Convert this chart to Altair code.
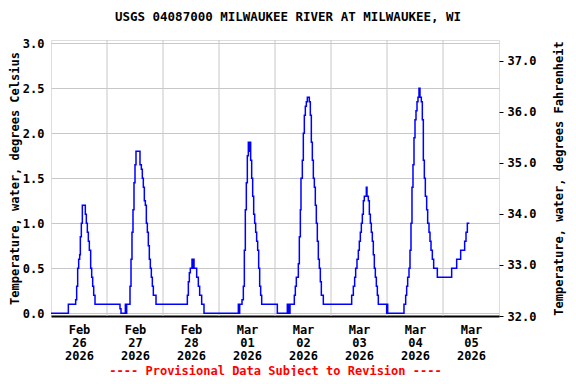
import altair as alt
import pandas as pd

# Hours since 2026-02-26 00:00 at which the reading changes, and the new value (deg C)
hours = [0, 7.43, 10.57, 11.0, 11.43, 11.86, 12.29, 12.57, 13.0, 13.43, 14.71, 15.14, 15.57, 16.0, 16.43,
         17.0, 17.43, 17.86, 18.29, 18.86, 29.57, 30.0, 31.86, 32.14, 32.43, 33.86, 34.29, 34.71, 35.14,
         35.57, 36.0, 36.43, 38.14, 38.71, 39.14, 39.57, 40.0, 40.43, 40.86, 41.29, 41.71, 42.14, 42.57,
         43.0, 43.43, 43.86, 45.0, 58.43, 58.86, 59.29, 59.71, 60.43, 60.64, 60.86, 61.29, 62.43, 63.14,
         63.71, 64.57, 65.57, 80.29, 80.57, 80.86, 81.86, 82.43, 82.86, 83.28, 83.71, 84.14, 84.57, 85.07,
         85.29, 85.57, 86.0, 86.43, 86.86, 87.29, 87.71, 88.14, 88.57, 89.0, 89.43, 89.86, 90.29, 97.0,
         101.28, 101.57, 102.0, 102.29, 102.43, 104.28, 104.71, 105.14, 106.0, 106.43, 106.86, 107.14,
         107.71, 108.14, 108.57, 109.0, 109.43, 109.86, 110.71, 111.14, 111.57, 112.0, 112.43, 112.86,
         113.28, 113.71, 114.14, 114.57, 115.0, 115.43, 115.86, 116.71, 128.86, 129.57, 130.14, 130.57,
         131.14, 131.71, 132.14, 132.57, 133.0, 133.43, 133.86, 134.28, 135.14, 135.43, 136.0, 136.43,
         136.86, 137.28, 137.71, 138.14, 138.57, 139.0, 139.43, 139.86, 140.28, 143.86, 144.13, 144.29,
         151.28, 152.0, 152.43, 152.86, 153.43, 153.86, 154.28, 154.71, 155.14, 155.57, 156.0, 156.43,
         156.86, 157.28, 157.71, 158.14, 158.71, 159.14, 159.57, 160.0, 160.43, 161.0, 161.43, 162.0,
         162.43, 162.86, 163.43, 164.0, 165.57, 171.71, 173.86, 175.57, 177.28, 177.86, 178.43, 179.28]
temp_c = [0.0, 0.1, 0.15, 0.3, 0.5, 0.6, 0.65, 0.85, 1.0, 1.2, 1.1, 1.0, 0.9, 0.8, 0.7,
          0.5, 0.4, 0.3, 0.2, 0.1, 0.05, 0.0, 0.1, 0.0, 0.1, 0.3, 0.6, 0.9, 1.15,
          1.45, 1.65, 1.8, 1.65, 1.6, 1.5, 1.4, 1.25, 1.2, 1.0, 0.9, 0.75, 0.6, 0.5,
          0.4, 0.3, 0.2, 0.1, 0.2, 0.35, 0.45, 0.5, 0.6, 0.5, 0.6, 0.5, 0.4, 0.3,
          0.2, 0.1, 0.0, 0.1, 0.0, 0.1, 0.15, 0.3, 0.7, 1.15, 1.45, 1.75, 1.9, 1.8,
          1.9, 1.7, 1.5, 1.3, 1.1, 1.0, 0.9, 0.8, 0.7, 0.5, 0.3, 0.2, 0.1, 0.0,
          0.1, 0.0, 0.1, 0.0, 0.1, 0.2, 0.3, 0.4, 0.55, 0.85, 1.15, 1.5,
          1.7, 2.0, 2.2, 2.3, 2.35, 2.4, 2.35, 2.2, 1.9, 1.7, 1.5, 1.4,
          1.2, 1.0, 0.8, 0.6, 0.5, 0.35, 0.2, 0.1, 0.2, 0.3, 0.4, 0.5,
          0.6, 0.7, 0.8, 0.9, 1.0, 1.1, 1.25, 1.3, 1.4, 1.3, 1.25, 1.1,
          1.0, 0.9, 0.8, 0.65, 0.5, 0.4, 0.3, 0.2, 0.1, 0.0, 0.1, 0.0,
          0.1, 0.2, 0.3, 0.4, 0.5, 0.7, 1.0, 1.4, 1.65, 1.95, 2.15, 2.25,
          2.35, 2.4, 2.5, 2.4, 2.35, 2.15, 1.7, 1.5, 1.3, 1.15, 1.0, 0.9,
          0.8, 0.7, 0.6, 0.5, 0.4, 0.5, 0.6, 0.7, 0.8, 0.9, 1.0, 1.0]

c_ticks = [0.0, 0.5, 1.0, 1.5, 2.0, 2.5, 3.0]
f_ticks = [32.0, 33.0, 34.0, 35.0, 36.0, 37.0]
n_days = 8
title_text = "USGS 04087000 MILWAUKEE RIVER AT MILWAUKEE, WI"
note_text = "---- Provisional Data Subject to Revision ----"

base = pd.Timestamp("2026-02-26T00:00:00Z")
x0 = int(base.value // 10**6)
day_ms = 86400000
t_ms = [x0 + int(round(h * 3600000)) for h in hours]
df = pd.DataFrame({"t": t_ms, "c": temp_c})
df["f"] = df["c"] * 1.8 + 32

label_vals = [x0 + day_ms * i + day_ms // 2 for i in range(n_days)]
grid_df = pd.DataFrame({"t": [x0 + day_ms * i for i in range(1, n_days)]})

FONT = "DejaVu Sans Mono"
xscale = alt.Scale(type="utc", domain=[x0, x0 + n_days * day_ms])

xaxis = alt.Axis(
    values=label_vals,
    labelExpr="[utcFormat(datum.value, '%b'), utcFormat(datum.value, '%d'), utcFormat(datum.value, '%Y')]",
    grid=False, ticks=False, domain=True, domainColor="black", domainWidth=2,
    labelFont=FONT, labelFontWeight="bold", labelFontSize=12, labelColor="black",
    labelPadding=8, labelLineHeight=13, labelOverlap=False, labelFlush=False,
    title=note_text, titleColor="#ff0000", titleFont=FONT, titleFontWeight="bold",
    titleFontSize=12, titlePadding=4,
)

grid = alt.Chart(grid_df).mark_rule(color="#c8c8c8", strokeWidth=1).encode(
    x=alt.X("t:T", scale=xscale, axis=xaxis)
)

line = alt.Chart(df).mark_line(interpolate="step-after", color="#0000ff", strokeWidth=1.5).encode(
    x=alt.X("t:T", scale=xscale, axis=xaxis),
    y=alt.Y("c:Q", scale=alt.Scale(domain=[-0.03, 3.037], nice=False, zero=False),
            axis=alt.Axis(values=c_ticks, format=".1f", grid=True, gridColor="#c8c8c8",
                          ticks=False, domain=False, labelFont=FONT, labelFontWeight="bold",
                          labelFontSize=12, labelColor="black", labelPadding=7,
                          title="Temperature, water, degrees Celsius", titleFont=FONT,
                          titleFontWeight="bold", titleFontSize=12, titleColor="black",
                          titlePadding=1)),
)

left = alt.layer(grid, line)

right = alt.Chart(df).mark_line(opacity=0, interpolate="step-after").encode(
    x=alt.X("t:T", scale=xscale, axis=xaxis),
    y=alt.Y("f:Q", scale=alt.Scale(domain=[32.0, 37.41], nice=False, zero=False),
            axis=alt.Axis(orient="right", values=f_ticks, format=".1f", grid=False,
                          ticks=True, tickSize=4, tickColor="black", domain=False,
                          labelFont=FONT, labelFontWeight="bold", labelFontSize=12,
                          labelColor="black", labelPadding=4,
                          title="Temperature, water, degrees Fahrenheit", titleFont=FONT,
                          titleFontWeight="bold", titleFontSize=12, titleColor="black",
                          titleAngle=270, titleBaseline="bottom", titlePadding=30)),
)

chart = alt.layer(left, right).resolve_scale(y="independent").properties(
    width=448, height=276,
    title=alt.TitleParams(title_text, font=FONT, fontWeight="bold", fontSize=12.5,
                          color="black", anchor="middle", dx=13, offset=14),
    autosize=alt.AutoSizeParams(type="none"),
    padding={"left": 43, "top": 32, "right": 69, "bottom": 60},
).configure_view(stroke="black", strokeWidth=1).configure(background="white")

chart.save("out.html", embed_options={"renderer": "svg", "actions": False})
